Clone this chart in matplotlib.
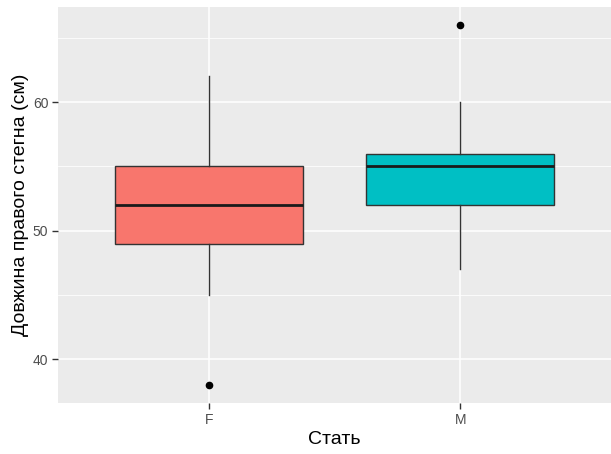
import matplotlib
matplotlib.use("Agg")
import matplotlib.pyplot as plt
from matplotlib.ticker import MultipleLocator

categories = ["F", "M"]
whisker_low = [45, 47]
q1 = [49, 52]
median = [52, 55]
q3 = [55, 56]
whisker_high = [62, 60]
outliers = [[38], [66]]
colors = ["#F8766D", "#00BFC4"]

plt.rcParams['font.family'] = ['Liberation Sans', 'DejaVu Sans']

fig = plt.figure(figsize=(6.11, 4.54), dpi=100)
ax = fig.add_axes([58/611, 1 - 403/454, (611-58)/611, (403-7)/454])
ax.set_facecolor("#EBEBEB")
for s in ax.spines.values():
    s.set_visible(False)

stats = []
for i, c in enumerate(categories):
    stats.append(dict(label=c, whislo=whisker_low[i], q1=q1[i], med=median[i],
                      q3=q3[i], whishi=whisker_high[i], fliers=outliers[i]))

positions = list(range(1, len(categories) + 1))
bp = ax.bxp(stats, positions=positions, widths=0.75, patch_artist=True,
            showcaps=False, zorder=3,
            boxprops=dict(edgecolor="#333333", linewidth=1.0),
            medianprops=dict(color="#1a1a1a", linewidth=2.0),
            whiskerprops=dict(color="#333333", linewidth=1.0),
            flierprops=dict(marker="o", markerfacecolor="black", markeredgecolor="black",
                            markersize=4.5))
for patch, col in zip(bp["boxes"], colors):
    patch.set_facecolor(col)

ax.set_xlim(0.4, 2.6)
ax.set_ylim(36.6, 67.4)
ax.yaxis.set_major_locator(MultipleLocator(10))
ax.yaxis.set_minor_locator(MultipleLocator(5))
ax.set_xticks(positions)
ax.set_xticklabels(categories)

ax.grid(True, which="major", color="white", linewidth=1.1, zorder=0)
ax.grid(True, which="minor", axis="y", color="white", linewidth=0.55, zorder=0)
ax.set_axisbelow(True)

ax.tick_params(axis="both", which="major", length=4, width=1, color="#333333",
               labelcolor="#4D4D4D", labelsize=10, pad=3)
ax.tick_params(axis="both", which="minor", length=0)

ax.set_xlabel("Стать", fontsize=14, color="black", labelpad=3)
ax.set_ylabel("Довжина правого стегна (см)", fontsize=14, color="black", labelpad=3)

fig.savefig("out.png", dpi=100)
